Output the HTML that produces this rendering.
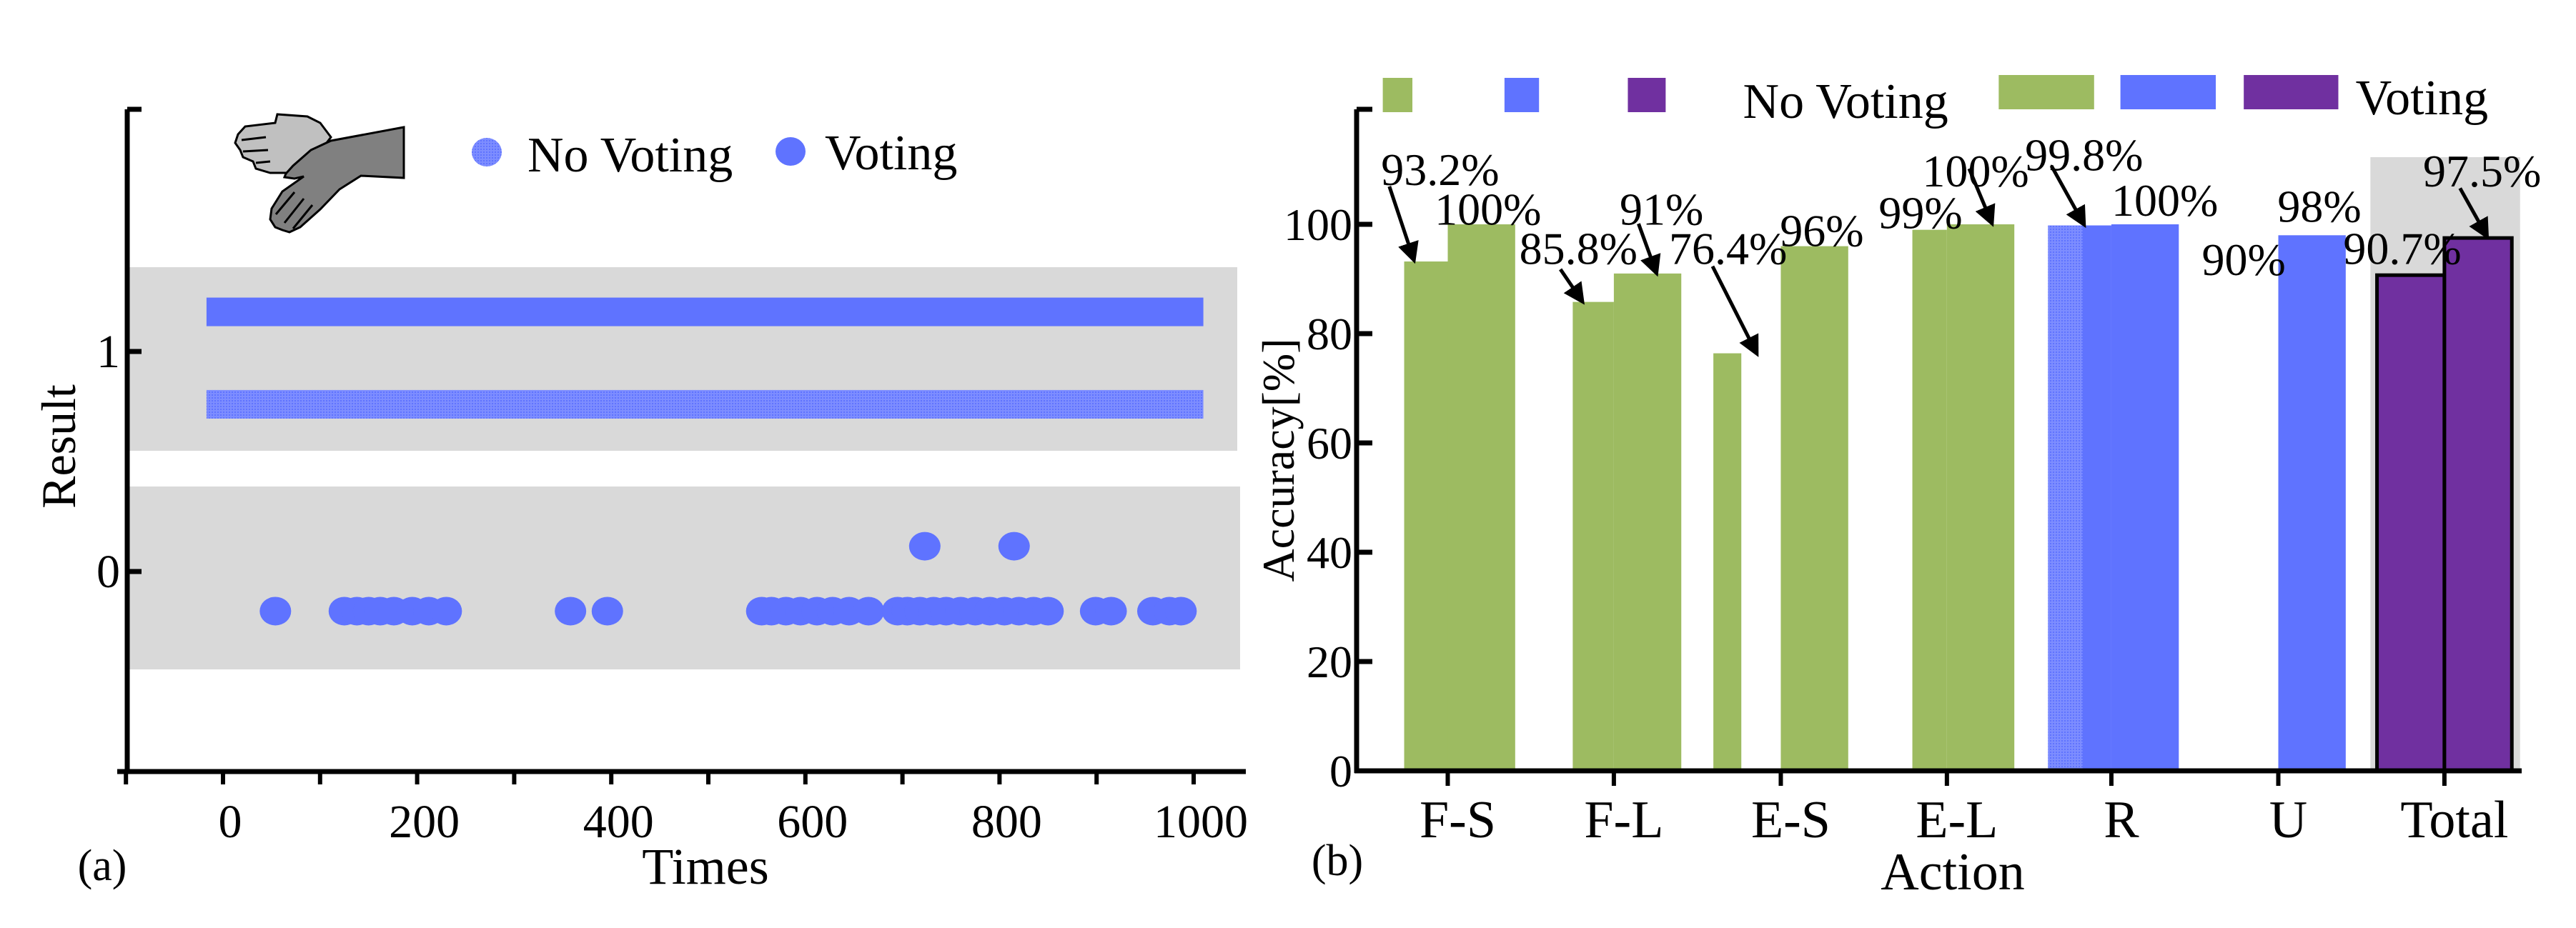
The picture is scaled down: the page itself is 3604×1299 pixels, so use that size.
<!DOCTYPE html>
<html><head><meta charset="utf-8"><style>
html,body{margin:0;padding:0;background:#fff;}
svg{display:block;}
text{font-family:"Liberation Serif",serif;fill:#000;}
</style></head><body>
<svg id="chart" width="3604" height="1299" viewBox="0 0 3604 1299" xmlns="http://www.w3.org/2000/svg">
<defs>
<pattern id="dotpat" width="4" height="4" patternUnits="userSpaceOnUse">
<rect width="4" height="4" fill="#7d8dff"/><rect width="2" height="2" fill="#5f73ff"/>
</pattern>
<marker id="ah" markerWidth="6" markerHeight="6" refX="5" refY="3" orient="auto" markerUnits="strokeWidth">
<path d="M0,0 L6,3 L0,6 z" fill="#000"/>
</marker>
</defs>
<g id="left"></g>
<g id="right"></g>
</svg>
<script>
// ---- Panel (a) data ----
const xTicksA = [0, 200, 400, 600, 800, 1000];
const yTicksA = [0, 1];
const noVotingLevel = 0.76;
const votingLevel = 1.18;
const votingErrTimes = [54, 125, 138, 150, 162, 176, 195, 212, 230, 358, 396, 555, 565, 580, 595, 612, 628, 645, 665, 695, 705, 718, 732, 745, 760, 775, 790, 805, 820, 835, 850, 899, 915, 958, 975, 987];
const votingErrLevel = -0.18;
const votingSpikeTimes = [723, 815];
const votingSpikeLevel = 0.115;

// ---- Panel (b) data ----
const categories = ["F-S", "F-L", "E-S", "E-L", "R", "U", "Total"];
const noVotingVals = [93.2, 85.8, 76.4, 99, 99.8, null, 90.7];
const votingVals = [100, 91, 96, 100, 100, 98, 97.5];
const noVotingLabels = ["93.2%", "85.8%", "76.4%", "99%", "99.8%", "90%", "90.7%"];
const votingLabels = ["100%", "91%", "96%", "100%", "100%", "98%", "97.5%"];
const yTicksB = [0, 20, 40, 60, 80, 100];

const NS = "http://www.w3.org/2000/svg";
function mk(parent, tag, attrs, txt) {
  const e = document.createElementNS(NS, tag);
  for (const k in attrs) e.setAttribute(k, attrs[k]);
  if (txt !== undefined) e.textContent = txt;
  parent.appendChild(e);
  return e;
}

// ===== Panel A =====
const L = document.getElementById('left');
const XA = v => 312 + v * 1.358;
const YA = v => 800 - v * 308;

let e;
e = mk(L, 'rect', {x:178, y:374, width:1553, height:257, fill:'#d9d9d9'});


e = mk(L, 'rect', {x:178, y:681, width:1557, height:256, fill:'#d9d9d9'});



e = mk(L, 'rect', {x:XA(-17), y:YA(votingLevel)-20, width:XA(1010)-XA(-17), height:40, fill:'#5f73ff'});


e = mk(L, 'rect', {x:XA(-17), y:YA(noVotingLevel)-20, width:XA(1010)-XA(-17), height:40, fill:'url(#dotpat)'});



votingErrTimes.forEach(t => {
  const c = mk(L, 'ellipse', {cx:XA(t), cy:YA(votingErrLevel), rx:22, ry:20, fill:'#5f73ff'});
  
  
});
votingSpikeTimes.forEach(t => {
  const c = mk(L, 'ellipse', {cx:XA(t), cy:YA(votingSpikeLevel), rx:22, ry:20, fill:'#5f73ff'});
  
  
});

// axes
e = mk(L, 'line', {x1:178, y1:153, x2:178, y2:1082, stroke:'#000', 'stroke-width':7});


e = mk(L, 'line', {x1:178, y1:153, x2:198, y2:153, stroke:'#000', 'stroke-width':7});


e = mk(L, 'line', {x1:164, y1:1080, x2:1743, y2:1080, stroke:'#000', 'stroke-width':7});


for (let v = -100; v <= 1000; v += 100) {
  const t = mk(L, 'line', {x1:XA(v), y1:1080, x2:XA(v), y2:1098, stroke:'#000', 'stroke-width':6});
  
  
}
xTicksA.forEach(v => {
  const t = mk(L, 'text', {x:XA(v)+10, y:1172, 'font-size':66, 'text-anchor':'middle'}, String(v));
  
  
});
yTicksA.forEach(v => {
  const t = mk(L, 'line', {x1:178, y1:YA(v), x2:198, y2:YA(v), stroke:'#000', 'stroke-width':7});
  
  
  const l = mk(L, 'text', {x:168, y:YA(v)+22, 'font-size':66, 'text-anchor':'end'}, String(v));
  
  
});
e = mk(L, 'text', {x:0, y:0, 'font-size':68, 'text-anchor':'middle', transform:'translate(105,625) rotate(-90)'}, 'Result');


e = mk(L, 'text', {x:987, y:1237, 'font-size':72, 'text-anchor':'middle'}, 'Times');


e = mk(L, 'text', {x:143, y:1232, 'font-size':62, 'text-anchor':'middle'}, '(a)');



// hands icon
const hg = mk(L, 'g', {});


mk(hg, 'path', {d:'M463,192 L448,172 L430,163 L388,160 L385,172 L343,177 L333,188 L329,200 L336,210 L340,220 L354,226 L358,236 L378,242 L402,242 L440,222 Z', fill:'#c0c0c0', stroke:'#000', 'stroke-width':3});
mk(hg, 'path', {d:'M372,192 L338,196 M375,210 L340,212 M378,226 L358,228', fill:'none', stroke:'#000', 'stroke-width':3});
mk(hg, 'path', {d:'M565,178 L463,197 L435,210 L410,232 L400,243 L398,248 L412,250 L425,247 L395,268 L380,292 L378,307 L385,318 L395,322 L405,325 L420,318 L448,293 L475,265 L505,246 L565,249 Z', fill:'#808080', stroke:'#000', 'stroke-width':3});
mk(hg, 'path', {d:'M412,269 L386,300 M425,278 L398,312 M437,287 L410,320', fill:'none', stroke:'#000', 'stroke-width':3});

// legend a
e = mk(L, 'ellipse', {cx:681, cy:213, rx:21, ry:20, fill:'url(#dotpat)'});


e = mk(L, 'text', {x:738, y:240, 'font-size':70}, 'No Voting');


e = mk(L, 'ellipse', {cx:1106, cy:212, rx:21, ry:20, fill:'#5f73ff'});


e = mk(L, 'text', {x:1154, y:237, 'font-size':70}, 'Voting');



// ===== Panel B =====
const R = document.getElementById('right');
const YB = v => 1079 - v * 7.65;
const zx = z => 1800 + z * 1.1505;
const tickZ = [196, 398, 601, 803, 1003, 1206, 1408];
const colors = ['#9dbb61','#9dbb61','#9dbb61','#9dbb61','#5f73ff','#5f73ff','#7030a0'];
const nvWidthZ = [53, 50, 34, 42, 77, 0, 82];
const nvEndZ = [0, 0, -48, 0, 0, 0, 0];
const vWidthZ = 82;

e = mk(R, 'rect', {x:zx(1318), y:220, width:zx(1500)-zx(1318), height:1079-220, fill:'#d9d9d9'});



categories.forEach((c, i) => {
  const tx = tickZ[i];
  const isTotal = c === 'Total';
  if (noVotingVals[i] !== null) {
    const x1 = zx(tx + nvEndZ[i] - nvWidthZ[i]), x2 = zx(tx + nvEndZ[i]);
    const b = mk(R, 'rect', {x:x1, y:YB(noVotingVals[i]), width:x2-x1, height:1079-YB(noVotingVals[i]), fill:colors[i]});
    if (isTotal) { b.setAttribute('stroke','#000'); b.setAttribute('stroke-width',5); }
    
    
    if (c === 'R') {
      const p = mk(R, 'rect', {x:x1, y:YB(noVotingVals[i]), width:zx(tx-35)-x1, height:1079-YB(noVotingVals[i]), fill:'url(#dotpat)'});
      
      
    }
  }
  const vx1 = zx(tx), vx2 = zx(tx + vWidthZ);
  const vb = mk(R, 'rect', {x:vx1, y:YB(votingVals[i]), width:vx2-vx1, height:1079-YB(votingVals[i]), fill:colors[i]});
  if (isTotal) { vb.setAttribute('stroke','#000'); vb.setAttribute('stroke-width',5); }
  
  
});

// axes b
e = mk(R, 'line', {x1:1898, y1:153, x2:1898, y2:1082, stroke:'#000', 'stroke-width':7});


e = mk(R, 'line', {x1:1898, y1:153, x2:1920, y2:153, stroke:'#000', 'stroke-width':7});


e = mk(R, 'line', {x1:1895, y1:1079, x2:3528, y2:1079, stroke:'#000', 'stroke-width':7});


yTicksB.forEach(v => {
  const t = mk(R, 'line', {x1:1898, y1:YB(v), x2:1920, y2:YB(v), stroke:'#000', 'stroke-width':7});
  
  
  const l = mk(R, 'text', {x:1892, y:YB(v)+22, 'font-size':64, 'text-anchor':'end'}, String(v));
  
  
});
categories.forEach((c, i) => {
  const t = mk(R, 'line', {x1:zx(tickZ[i]), y1:1079, x2:zx(tickZ[i]), y2:1100, stroke:'#000', 'stroke-width':6});
  
  
  const l = mk(R, 'text', {x:zx(tickZ[i])+14, y:1172, 'font-size':74, 'text-anchor':'middle'}, c);
  
  
});
e = mk(R, 'text', {x:0, y:0, 'font-size':64, 'text-anchor':'middle', transform:'translate(1810,644) rotate(-90)'}, 'Accuracy[%]');


e = mk(R, 'text', {x:2732, y:1245, 'font-size':74, 'text-anchor':'middle'}, 'Action');


e = mk(R, 'text', {x:1871, y:1225, 'font-size':62, 'text-anchor':'middle'}, '(b)');



// value labels (left x in zoom coords, center y in zoom coords)
const nvLabelPosZ = [[115,285],[283,418],[465,418],[720,358],[898,260],[1113,437],[1285,418]];
const vLabelPosZ = [[180,352],[405,352],[600,388],[773,287],[1003,337],[1205,347],[1382,287]];
categories.forEach((c, i) => {
  const a = mk(R, 'text', {x:zx(nvLabelPosZ[i][0]), y:nvLabelPosZ[i][1]*0.8284+23, 'font-size':64}, noVotingLabels[i]);
  
  
  const b = mk(R, 'text', {x:zx(vLabelPosZ[i][0]), y:vLabelPosZ[i][1]*0.8284+23, 'font-size':64}, votingLabels[i]);
  
  
});
// arrows
const arrowsZ = [[125,315,155,440],[333,455,360,510],[428,378,450,462],[518,450,572,598],[830,285,858,378],[930,280,970,380],[1427,318,1460,400]];
arrowsZ.forEach(a => {
  const l = mk(R, 'line', {x1:zx(a[0]), y1:a[1]*0.8284, x2:zx(a[2]), y2:a[3]*0.8284, stroke:'#000', 'stroke-width':5, 'marker-end':'url(#ah)'});
  
  
});

// legend b
const legSmall = [[117,153,'#9dbb61'],[265,307,'#5f73ff'],[415,461,'#7030a0']];
legSmall.forEach(s => {
  const r = mk(R, 'rect', {x:zx(s[0]), y:109, width:zx(s[1])-zx(s[0]), height:48, fill:s[2]});
  
  
});
e = mk(R, 'text', {x:zx(555), y:165, 'font-size':70}, 'No Voting');


const legBig = [[866,982,'#9dbb61'],[1014,1130,'#5f73ff'],[1164,1279,'#7030a0']];
legBig.forEach(s => {
  const r = mk(R, 'rect', {x:zx(s[0]), y:105, width:zx(s[1])-zx(s[0]), height:48, fill:s[2]});
  
  
});
e = mk(R, 'text', {x:zx(1300), y:160, 'font-size':70}, 'Voting');


</script>
</body></html>
